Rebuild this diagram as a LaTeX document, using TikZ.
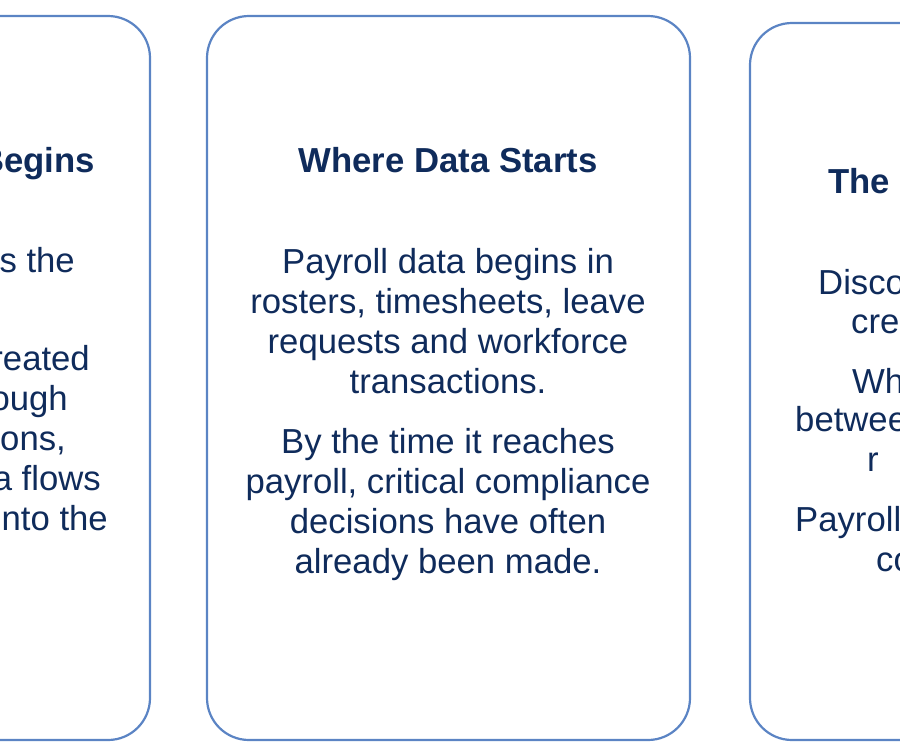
\documentclass[tikz,border=0pt]{standalone}
\usepackage{fontspec}
\setmainfont{Liberation Sans}
\definecolor{navy}{HTML}{0F2B5B}
\definecolor{frame}{HTML}{5B84C4}
\begin{document}
\begin{tikzpicture}[x=1pt,y=-1pt,
  card/.style={draw=frame,line width=2.2pt,rounded corners=42pt},
  ttl/.style={text=navy,font=\fontsize{34.7}{40}\selectfont\bfseries,inner sep=0pt},
  txt/.style={text=navy,font=\fontsize{34.7}{40}\selectfont,inner sep=0pt,align=center}]
\useasboundingbox (0,0) rectangle (900,750);
\draw[card] (-333,16) rectangle (150,740);
\draw[card] (207,16) rectangle (690,740);
\draw[card] (750,23) rectangle (1233,740);
% left fragments
\node[ttl,anchor=base east] (lt) at (95,172) {Begins};
\node[txt,anchor=base east] (l1) at (75,272) {s the};
\node[txt,anchor=base east] (l2) at (90,370) {reated};
\node[txt,anchor=base east] (l3) at (68,410) {ough};
\node[txt,anchor=base east] (l4) at (66,450) {ons,};
\node[txt,anchor=base east] (l5) at (101,490) {a flows};
\node[txt,anchor=base east] (l6) at (108,530) {nto the};
% middle
\node[ttl,anchor=base] (mt) at (448,172) {Where Data Starts};
\node[txt,anchor=north] (m1) at (448,248) {Payroll data begins in\\rosters, timesheets, leave\\requests and workforce\\transactions.};
\node[txt,anchor=north] (m2) at (448,428) {By the time it reaches\\payroll, critical compliance\\decisions have often\\already been made.};
% right fragments
\node[ttl,anchor=base west] (rt) at (828,193) {The I};
\node[txt,anchor=base west] (r1) at (818,294) {Disco};
\node[txt,anchor=base west] (r2) at (851,333) {cre};
\node[txt,anchor=base west] (r3) at (852,393) {Wh};
\node[txt,anchor=base west] (r4) at (795,431) {betwee};
\node[txt,anchor=base west] (r5) at (867,471) {r};
\node[txt,anchor=base west] (r6) at (795,531) {Payroll};
\node[txt,anchor=base west] (r7) at (876,571) {co};
\end{tikzpicture}
\end{document}
